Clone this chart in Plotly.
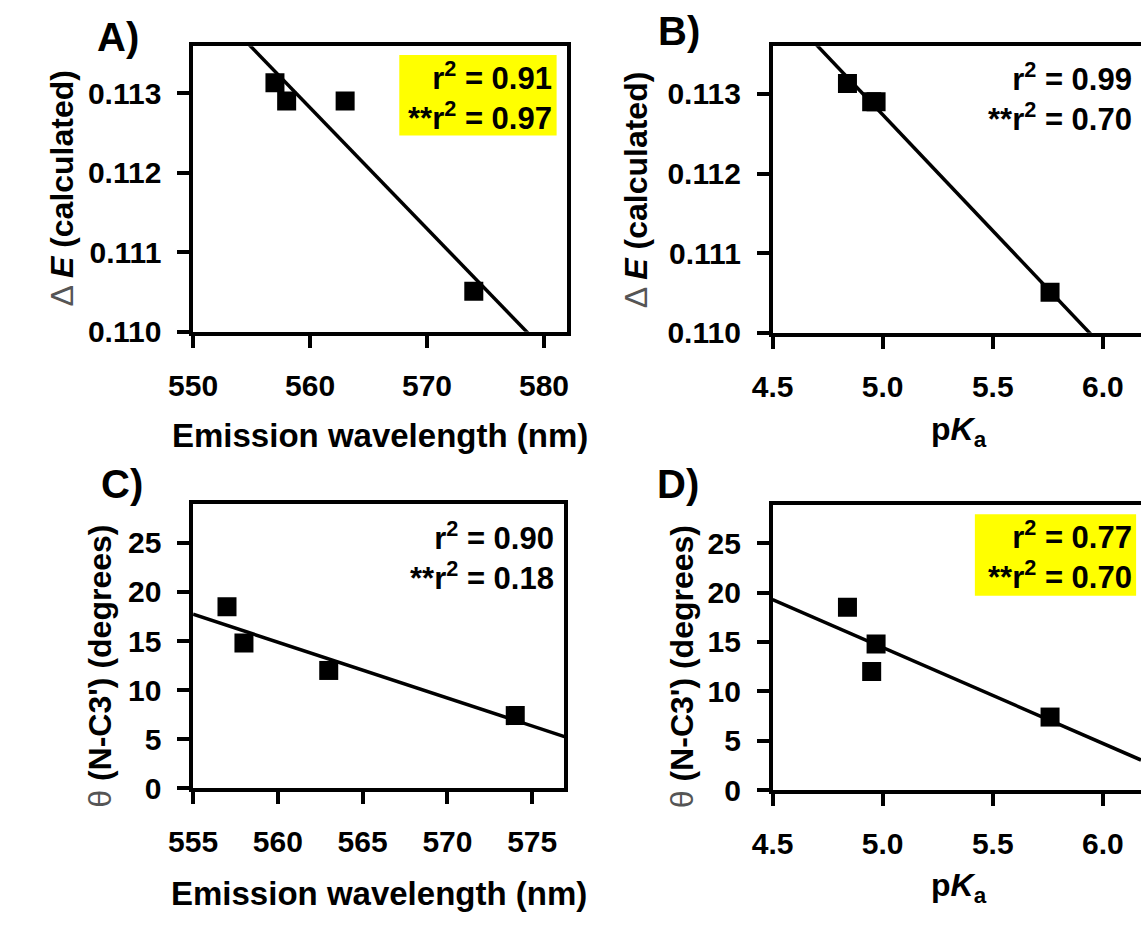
import numpy as np
import plotly.graph_objects as go

# ---------------- data ----------------
wavelength = [557, 558, 563, 574]               # emission wavelength (nm)
pka = [4.84, 4.97, 4.95, 5.76]                  # pKa
delta_e = [0.11313, 0.11290, 0.11290, 0.11051]  # Delta E (calculated)
theta = [18.5, 14.8, 12.0, 7.4]                 # theta (N-C3') degrees

r2_text = {
    "A": ("0.91", "0.97"),
    "B": ("0.99", "0.70"),
    "C": ("0.90", "0.18"),
    "D": ("0.77", "0.70"),
}
x_ticks_wl_A = [550, 560, 570, 580]
x_ticks_wl_C = [555, 560, 565, 570, 575]
x_ticks_pka = [4.5, 5.0, 5.5, 6.0]
y_ticks_de = [0.110, 0.111, 0.112, 0.113]
y_ticks_theta = [0, 5, 10, 15, 20, 25]

# ---------------- layout helpers ----------------
W, H = 1142, 925
FONT = "Liberation Sans, Arial, sans-serif"


def fx(px):
    return px / W


def fy(py):
    return 1 - py / H


def axis_style(**kw):
    d = dict(showline=True, linewidth=3.5, linecolor="black", ticks="outside",
             ticklen=12, tickwidth=3.5, tickcolor="black", showgrid=False,
             zeroline=False,
             tickfont=dict(family=FONT, size=30, color="black", weight="bold"))
    d.update(kw)
    return d


fig = go.Figure()

panels = [
    ("A", wavelength, delta_e, "x", "y"),
    ("B", pka, delta_e, "x2", "y2"),
    ("C", wavelength, theta, "x3", "y3"),
    ("D", pka, theta, "x4", "y4"),
]
ranges = {
    "A": ([550, 582.0], [0.110, 0.11359]),
    "B": ([4.5, 6.173], [0.110, 0.11360]),
    "C": ([555, 576.9], [0, 29.0]),
    "D": ([4.5, 6.173], [0, 28.9]),
}

for key, xd, yd, xa, ya in panels:
    xr, yr = ranges[key]
    slope, icpt = np.polyfit(xd, yd, 1)
    xl = np.array(xr)
    fig.add_trace(go.Scatter(x=xl, y=slope * xl + icpt, mode="lines",
                             line=dict(color="black", width=3.5),
                             xaxis=xa, yaxis=ya, showlegend=False,
                             hoverinfo="skip"))
    fig.add_trace(go.Scatter(x=xd, y=yd, mode="markers",
                             marker=dict(symbol="square", size=19, color="black",
                                         line=dict(width=0)),
                             xaxis=xa, yaxis=ya, showlegend=False))

fig.update_layout(
    width=W, height=H, autosize=False,
    margin=dict(l=0, r=0, t=0, b=0),
    paper_bgcolor="white", plot_bgcolor="white",
    font=dict(family=FONT, color="black"),
    xaxis=axis_style(domain=[fx(172), fx(555)], range=ranges["A"][0],
                     tickvals=x_ticks_wl_A, mirror=True, anchor="y",
                     ticklabelstandoff=12),
    yaxis=axis_style(domain=[fy(338), fy(47)], range=ranges["A"][1],
                     tickvals=y_ticks_de, tickformat=".3f", mirror=True,
                     anchor="x", ticklabelstandoff=10),
    xaxis2=axis_style(domain=[fx(765), 1.0], range=ranges["B"][0],
                      tickvals=x_ticks_pka, tickformat=".1f", mirror=True,
                      anchor="y2", ticklabelstandoff=12),
    yaxis2=axis_style(domain=[fy(339), fy(47)], range=ranges["B"][1],
                      tickvals=y_ticks_de, tickformat=".3f", mirror=False,
                      anchor="x2", ticklabelstandoff=10),
    xaxis3=axis_style(domain=[fx(172), fx(552)], range=ranges["C"][0],
                      tickvals=x_ticks_wl_C, mirror=True, anchor="y3",
                      ticklabelstandoff=12),
    yaxis3=axis_style(domain=[fy(803), fy(513)], range=ranges["C"][1],
                      tickvals=y_ticks_theta, mirror=True, anchor="x3",
                      ticklabelstandoff=10),
    xaxis4=axis_style(domain=[fx(765), 1.0], range=ranges["D"][0],
                      tickvals=x_ticks_pka, tickformat=".1f", mirror=True,
                      anchor="y4", ticklabelstandoff=12),
    yaxis4=axis_style(domain=[fy(805), fy(514)], range=ranges["D"][1],
                      tickvals=y_ticks_theta, mirror=False, anchor="x4",
                      ticklabelstandoff=10),
)

# yellow highlight boxes (A and D)
for (x0, x1, y0, y1) in [(383, 544, 56, 138), (972, 1137, 524, 607)]:
    fig.add_shape(type="rect", xref="paper", yref="paper",
                  x0=fx(x0), x1=fx(x1), y0=fy(y1), y1=fy(y0),
                  fillcolor="#FFFF00", line=dict(width=0), layer="below")

ann = []


def add_text(text, x, y, size, xanchor="center", yanchor="middle", angle=0,
             align="center", weight="normal"):
    ann.append(dict(text=text, x=fx(x), y=fy(y), xref="paper", yref="paper",
                    xanchor=xanchor, yanchor=yanchor, textangle=angle,
                    align=align, showarrow=False,
                    font=dict(family=FONT, size=size, color="black",
                              weight=weight)))


# panel letters
add_text("<b>A)</b>", 72, 38, 40, xanchor="left")
add_text("<b>B)</b>", 646, 32, 40, xanchor="left")
add_text("<b>C)</b>", 76, 493, 40, xanchor="left")
add_text("<b>D)</b>", 645, 493, 40, xanchor="left")

# r^2 texts
r2_pos = {"A": (541, 98), "B": (1135, 99), "C": (543, 566), "D": (1135, 565)}
for k, (a, b) in r2_text.items():
    x, y = r2_pos[k]
    add_text(f"r<sup>2</sup> = {a}<br>**r<sup>2</sup> = {b}", x, y, 31,
             xanchor="right", align="right", weight="bold")

# axis titles
wl_title = "<b>Emission wavelength (nm)</b>"
pka_title = "<b>p<i>K</i><sub>a</sub></b>"
de_title = "<span style='color:#555555'>Δ</span> <b><i>E</i> (calculated)</b>"
th_title = "<span style='color:#555555'>θ</span> <b>(N-C3') (degrees)</b>"

add_text(wl_title, 363, 444, 33)
add_text(pka_title, 956, 440, 32)
add_text(wl_title, 362, 910, 33)
add_text(pka_title, 956, 904, 32)
add_text(de_title, 38, 192, 32, angle=-90)
add_text(de_title, 626, 193, 32, angle=-90)
add_text(th_title, 76, 679, 32, angle=-90)
add_text(th_title, 672, 679, 32, angle=-90)

fig.update_layout(annotations=ann)

fig.write_html("out.html",
               config={"displayModeBar": False},
               post_script="document.body.style.margin='0';"
                           "document.body.style.overflow='hidden';")
